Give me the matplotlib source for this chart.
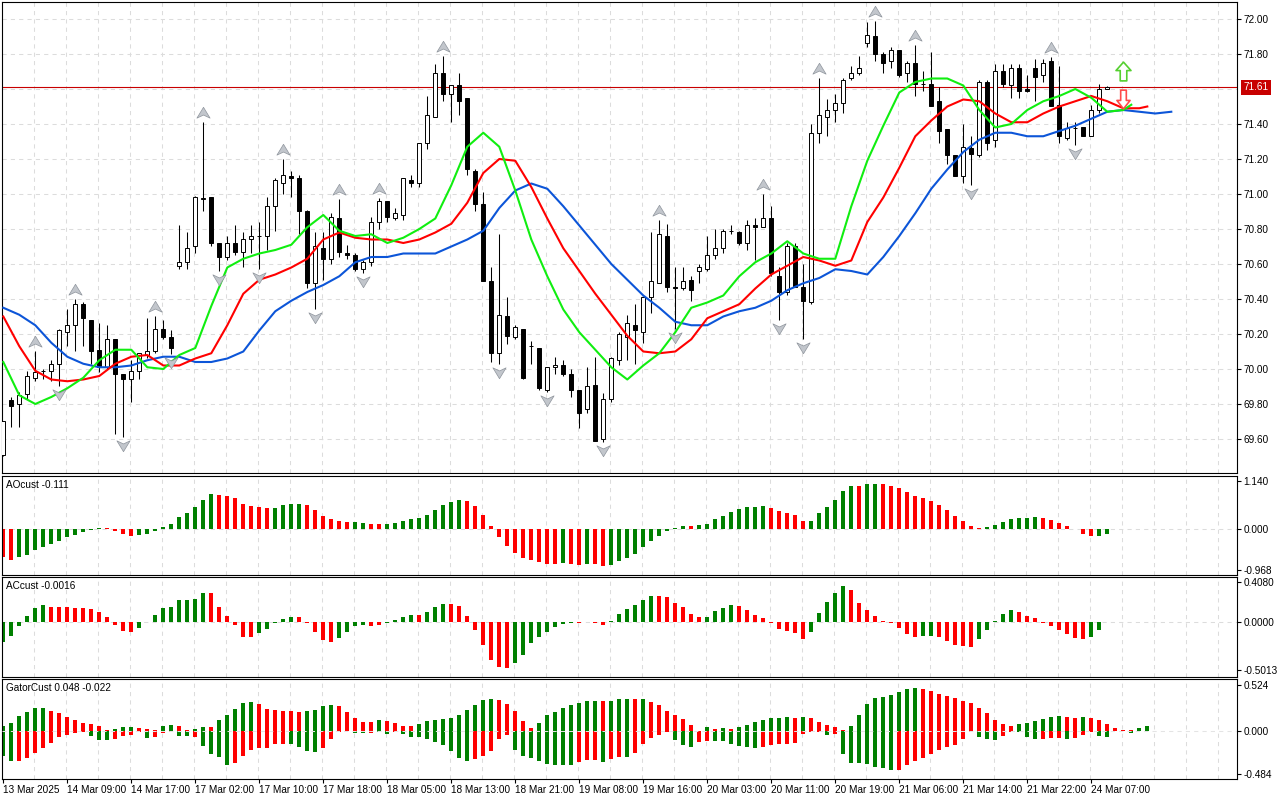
import matplotlib
matplotlib.use("Agg")
import matplotlib.pyplot as plt
import numpy as np
from matplotlib.path import Path
from matplotlib import transforms

# H1 candles (bar 0 = left edge)
opens = [69.51, 69.82, 69.80, 69.855, 69.95, 69.99, 69.99, 70.03, 70.21, 70.25,
         70.37, 70.28, 70.11, 70.01, 70.17, 69.97, 69.94, 69.99, 70.08, 70.10,
         70.23, 70.18, 70.59, 70.61, 70.70, 70.97, 70.98, 70.72, 70.64, 70.72,
         70.67, 70.74, 70.76, 70.76, 70.93, 71.065, 71.10, 71.09, 70.90, 70.49,
         70.69, 70.63, 70.86, 70.66, 70.65, 70.57, 70.61, 70.84, 70.96, 70.86,
         70.88, 71.08, 71.065, 71.29, 71.44, 71.69, 71.57, 71.62, 71.55, 71.13,
         70.94, 70.50, 70.09, 70.30, 70.18, 70.23, 70.13, 70.12, 69.88, 70.01,
         70.02, 69.97, 69.88, 69.77, 69.91, 69.60, 69.83, 70.05, 70.18, 70.25,
         70.21, 70.41, 70.49, 70.76, 70.47, 70.46, 70.51, 70.56, 70.57, 70.65,
         70.69, 70.79, 70.78, 70.72, 70.82, 70.81, 70.86, 70.53, 70.44, 70.70,
         70.47, 70.38, 71.35, 71.44, 71.48, 71.52, 71.66, 71.69, 71.86, 71.90,
         71.80, 71.76, 71.82, 71.69, 71.75, 71.63, 71.63, 71.53, 71.37, 71.22,
         71.10, 71.26, 71.22, 71.64, 71.31, 71.70, 71.62, 71.72, 71.60, 71.72,
         71.68, 71.76, 71.51, 71.32, 71.375, 71.38, 71.33, 71.48, 71.60]
highs = [69.70, 69.84, 69.87, 69.99, 70.10, 70.00, 70.05, 70.23, 70.34, 70.40,
         70.38, 70.28, 70.26, 70.25, 70.17, 69.97, 70.05, 70.09, 70.29, 70.30,
         70.28, 70.22, 70.82, 70.78, 70.99, 71.41, 70.98, 70.72, 70.76, 70.82,
         70.78, 70.82, 70.84, 70.98, 71.09, 71.20, 71.13, 71.11, 70.91, 70.78,
         70.78, 70.89, 70.97, 70.71, 70.66, 70.62, 70.87, 70.975, 70.96, 70.92,
         71.09, 71.11, 71.29, 71.56, 71.74, 71.79, 71.62, 71.69, 71.55, 71.14,
         71.01, 70.58, 70.77, 70.41, 70.25, 70.23, 70.16, 70.12, 70.01, 70.07,
         70.05, 70.00, 69.88, 70.01, 70.07, 69.86, 70.07, 70.21, 70.31, 70.37,
         70.41, 70.78, 70.85, 70.83, 70.58, 70.58, 70.53, 70.60, 70.76, 70.80,
         70.80, 70.82, 70.79, 70.85, 70.86, 71.00, 70.93, 70.58, 70.72, 70.72,
         70.60, 71.40, 71.66, 71.54, 71.57, 71.66, 71.73, 71.79, 71.98, 71.99,
         71.81, 71.84, 71.82, 71.76, 71.85, 71.70, 71.81, 71.61, 71.37, 71.22,
         71.40, 71.33, 71.65, 71.65, 71.74, 71.74, 71.74, 71.74, 71.68, 71.77,
         71.77, 71.785, 71.73, 71.41, 71.41, 71.385, 71.51, 71.63, 71.615]
lows = [69.50, 69.67, 69.67, 69.83, 69.93, 69.94, 69.93, 69.90, 70.13, 70.10,
        70.13, 70.03, 69.98, 70.00, 69.63, 69.61, 69.81, 69.94, 70.06, 70.09,
        70.17, 70.085, 70.57, 70.57, 70.66, 70.90, 70.70, 70.56, 70.62, 70.65,
        70.58, 70.66, 70.57, 70.68, 70.79, 71.00, 70.98, 70.77, 70.46, 70.34,
        70.51, 70.60, 70.64, 70.63, 70.56, 70.55, 70.59, 70.80, 70.84, 70.85,
        70.85, 71.04, 71.04, 71.255, 71.44, 71.53, 71.41, 71.45, 71.11, 70.90,
        70.50, 70.04, 70.03, 70.14, 70.17, 69.94, 70.03, 69.88, 69.87, 69.97,
        69.96, 69.84, 69.66, 69.75, 69.59, 69.58, 69.81, 70.02, 70.05, 70.03,
        70.15, 70.32, 70.49, 70.44, 70.23, 70.45, 70.39, 70.49, 70.56, 70.63,
        70.66, 70.77, 70.71, 70.68, 70.62, 70.81, 70.53, 70.28, 70.42, 70.47,
        70.17, 70.37, 71.29, 71.33, 71.41, 71.46, 71.65, 71.68, 71.84, 71.76,
        71.69, 71.72, 71.67, 71.64, 71.56, 71.59, 71.50, 71.29, 71.17, 71.10,
        71.06, 71.05, 71.21, 71.25, 71.27, 71.61, 71.55, 71.55, 71.58, 71.53,
        71.64, 71.50, 71.29, 71.31, 71.28, 71.33, 71.33, 71.46, 71.60]
closes = [69.70, 69.79, 69.85, 69.96, 69.98, 69.99, 70.03, 70.22, 70.25, 70.37,
          70.29, 70.10, 70.01, 70.17, 69.97, 69.94, 69.99, 70.09, 70.10, 70.23,
          70.18, 70.12, 70.61, 70.69, 70.98, 70.975, 70.72, 70.64, 70.72, 70.67,
          70.74, 70.76, 70.76, 70.93, 71.08, 71.11, 71.09, 70.90, 70.49, 70.70,
          70.63, 70.87, 70.67, 70.65, 70.57, 70.61, 70.84, 70.96, 70.87, 70.89,
          71.09, 71.065, 71.29, 71.45, 71.69, 71.57, 71.62, 71.53, 71.14, 70.94,
          70.50, 70.09, 70.31, 70.19, 70.24, 69.95, 70.13, 69.89, 70.01, 70.02,
          69.97, 69.88, 69.75, 69.90, 69.59, 69.83, 70.06, 70.20, 70.26, 70.22,
          70.41, 70.50, 70.77, 70.47, 70.46, 70.50, 70.45, 70.58, 70.65, 70.69,
          70.79, 70.79, 70.72, 70.82, 70.81, 70.86, 70.55, 70.44, 70.70, 70.47,
          70.39, 71.35, 71.45, 71.48, 71.52, 71.65, 71.69, 71.72, 71.91, 71.80,
          71.75, 71.82, 71.68, 71.75, 71.63, 71.63, 71.50, 71.36, 71.22, 71.10,
          71.27, 71.23, 71.64, 71.29, 71.70, 71.63, 71.72, 71.59, 71.59, 71.67,
          71.75, 71.50, 71.33, 71.375, 71.375, 71.33, 71.48, 71.60, 71.61]

up_fractals = [4, 9, 19, 25, 35, 42, 47, 55, 82, 95, 102, 109, 114, 131]
down_fractals = [7, 15, 21, 27, 32, 39, 45, 62, 68, 75, 84, 97, 100, 121, 134]

# alligator lines, sampled every second bar (they run past the last candle)
jaw_bars = np.arange(0, 147, 2)
jaw = [70.35, 70.31, 70.25, 70.15, 70.07, 70.03, 70.01, 70.01, 70.02, 70.05,
       70.07, 70.07, 70.04, 70.04, 70.06, 70.10, 70.22, 70.33, 70.39, 70.44,
       70.48, 70.53, 70.61, 70.64, 70.64, 70.66, 70.66, 70.66, 70.70, 70.74,
       70.79, 70.92, 71.02, 71.06, 71.03, 70.93, 70.82, 70.71, 70.60, 70.51,
       70.42, 70.35, 70.27, 70.25, 70.25, 70.30, 70.33, 70.35, 70.39, 70.45,
       70.49, 70.52, 70.57, 70.56, 70.54, 70.64, 70.76, 70.89, 71.03, 71.14,
       71.24, 71.31, 71.35, 71.35, 71.33, 71.33, 71.36, 71.39, 71.43, 71.47,
       71.48, 71.47, 71.46, 71.47]
teeth_bars = list(range(0, 143, 2)) + [143]
teeth = [70.30, 70.13, 69.99, 69.94, 69.93, 69.94, 69.96, 70.03, 70.07, 70.08,
         70.02, 70.02, 70.06, 70.09, 70.25, 70.43, 70.51, 70.54, 70.58, 70.63,
         70.74, 70.78, 70.75, 70.74, 70.74, 70.72, 70.74, 70.78, 70.83, 70.95,
         71.12, 71.20, 71.19, 71.04, 70.86, 70.69, 70.56, 70.43, 70.31, 70.19,
         70.10, 70.09, 70.10, 70.17, 70.29, 70.33, 70.37, 70.46, 70.54, 70.59,
         70.64, 70.62, 70.59, 70.62, 70.84, 70.98, 71.15, 71.33, 71.42, 71.50,
         71.54, 71.53, 71.46, 71.41, 71.41, 71.46, 71.50, 71.53, 71.56, 71.53,
         71.49, 71.49, 71.50]
lips_bars = list(range(0, 141, 2)) + [141]
lips = [70.04, 69.85, 69.80, 69.84, 69.89, 69.95, 70.05, 70.11, 70.11, 70.01,
        70.00, 70.08, 70.12, 70.36, 70.58, 70.63, 70.66, 70.68, 70.71, 70.81,
        70.88, 70.79, 70.76, 70.77, 70.72, 70.75, 70.80, 70.86, 71.05, 71.27,
        71.35, 71.27, 71.02, 70.74, 70.53, 70.34, 70.21, 70.11, 70.01, 69.94,
        70.02, 70.09, 70.21, 70.35, 70.38, 70.42, 70.53, 70.61, 70.66, 70.73,
        70.66, 70.63, 70.63, 70.93, 71.19, 71.39, 71.58, 71.64, 71.66, 71.66,
        71.62, 71.48, 71.38, 71.40, 71.48, 71.53, 71.56, 71.60, 71.55, 71.47,
        71.48, 71.51]

current_price = 71.61
signal_bar = 140
signal_up_price = 71.70
signal_down_price = 71.54

# oscillators, one value per bar; colour codes g = green, r = red
ao_vals = [-0.673, -0.736, -0.673, -0.610, -0.499, -0.420, -0.356, -0.277, -0.198, -0.135,
           -0.063, -0.024, 0.024, 0.016, -0.040, -0.119, -0.166, -0.135, -0.119, -0.040,
           0.055, 0.119, 0.293, 0.380, 0.515, 0.697, 0.831, 0.807, 0.784, 0.736,
           0.586, 0.538, 0.522, 0.499, 0.500, 0.570, 0.594, 0.595, 0.570, 0.459,
           0.309, 0.238, 0.200, 0.170, 0.172, 0.135, 0.119, 0.118, 0.120, 0.142,
           0.190, 0.238, 0.261, 0.333, 0.451, 0.570, 0.641, 0.689, 0.665, 0.546,
           0.333, 0.063, -0.182, -0.396, -0.562, -0.681, -0.728, -0.776, -0.823, -0.825,
           -0.800, -0.823, -0.847, -0.823, -0.839, -0.871, -0.847, -0.752, -0.681, -0.586,
           -0.420, -0.277, -0.158, -0.040, 0.024, 0.071, 0.065, 0.095, 0.119, 0.238,
           0.309, 0.404, 0.475, 0.522, 0.525, 0.546, 0.499, 0.428, 0.380, 0.333,
           0.190, 0.192, 0.380, 0.522, 0.689, 0.902, 1.021, 1.015, 1.069, 1.070,
           1.065, 1.021, 0.974, 0.879, 0.784, 0.736, 0.665, 0.570, 0.451, 0.309,
           0.190, 0.071, 0.024, 0.048, 0.095, 0.166, 0.238, 0.261, 0.262, 0.285,
           0.261, 0.214, 0.143, 0.071, -0.008, -0.119, -0.166, -0.160, -0.111]
ao_cols = ("rr" "ggggggggggg" "rrrr" "gggggggggg" "rrrrrrr" "gggg" "rrrrrr" "gg" "rr"
           "gggggggggg" "rrrrrrrrrrrr" "g" "rr" "g" "rr" "gggggggggg" "r" "ggggggggg"
           "rrrrr" "gggggg" "r" "gg" "rrrrrrrrrrrrr" "ggggggg" "rrrrrrr" "gg")

ac_vals = [-0.208, -0.146, -0.042, 0.059, 0.142, 0.174, 0.155, 0.153, 0.152, 0.145,
           0.143, 0.132, 0.101, 0.049, -0.035, -0.097, -0.104, -0.066, -0.003, 0.069,
           0.142, 0.153, 0.226, 0.227, 0.236, 0.298, 0.295, 0.153, 0.059, -0.031,
           -0.160, -0.161, -0.118, -0.076, -0.014, 0.028, 0.049, 0.048, -0.010, -0.104,
           -0.191, -0.208, -0.170, -0.104, -0.042, -0.031, -0.042, -0.031, -0.010, 0.017,
           0.049, 0.069, 0.068, 0.101, 0.153, 0.184, 0.180, 0.163, 0.059, -0.083,
           -0.239, -0.396, -0.468, -0.479, -0.427, -0.344, -0.219, -0.156, -0.104, -0.052,
           -0.021, -0.010, -0.012, -0.005, -0.017, -0.031, 0.010, 0.080, 0.132, 0.174,
           0.226, 0.267, 0.265, 0.257, 0.194, 0.153, 0.080, 0.049, 0.050, 0.111,
           0.142, 0.174, 0.163, 0.121, 0.069, 0.038, -0.010, -0.073, -0.094, -0.118,
           -0.180, -0.104, 0.090, 0.205, 0.298, 0.371, 0.330, 0.194, 0.121, 0.059,
           0.010, -0.017, -0.062, -0.125, -0.156, -0.146, -0.145, -0.156, -0.198, -0.239,
           -0.250, -0.260, -0.177, -0.083, 0.010, 0.080, 0.121, 0.101, 0.059, 0.038,
           -0.010, -0.042, -0.083, -0.125, -0.167, -0.177, -0.156, -0.083, -0.0016]
ac_cols = ("gggggg" "rrrrrrrrrrr" "ggggggggg" "rrrrrr" "ggggg" "rrrrr" "gggg" "rr" "gggg"
           "r" "ggg" "rrrrrrrr" "gggggggg" "r" "g" "rr" "gggggg" "rrrrrr" "gggg"
           "rrrrrrrrr" "ggggg" "rrrrrrrrr" "gg" "rrrrr" "ggggg" "rrrrrrrrr" "ggg")

gator_up = [0.057, 0.094, 0.172, 0.217, 0.262, 0.264, 0.229, 0.206, 0.160, 0.125,
            0.092, 0.083, 0.058, 0.011, 0.023, 0.045, 0.046, 0.034, 0.021, 0.015,
            0.057, 0.070, 0.057, 0.011, 0.023, 0.045, 0.044, 0.127, 0.183, 0.251,
            0.319, 0.331, 0.308, 0.251, 0.240, 0.230, 0.229, 0.219, 0.230, 0.242,
            0.287, 0.298, 0.287, 0.215, 0.151, 0.102, 0.101, 0.128, 0.117, 0.094,
            0.060, 0.059, 0.083, 0.117, 0.128, 0.140, 0.151, 0.185, 0.242, 0.298,
            0.355, 0.366, 0.355, 0.310, 0.230, 0.117, 0.038, 0.094, 0.185, 0.219,
            0.264, 0.298, 0.321, 0.344, 0.345, 0.343, 0.346, 0.366, 0.367, 0.365,
            0.366, 0.332, 0.298, 0.230, 0.185, 0.140, 0.072, 0.002, 0.045, 0.026,
            0.038, 0.026, 0.049, 0.072, 0.106, 0.128, 0.151, 0.152, 0.162, 0.151,
            0.162, 0.151, 0.106, 0.072, 0.049, 0.015, 0.060, 0.185, 0.310, 0.378,
            0.389, 0.412, 0.446, 0.480, 0.491, 0.480, 0.457, 0.423, 0.400, 0.378,
            0.344, 0.321, 0.264, 0.208, 0.128, 0.083, 0.060, 0.083, 0.100, 0.117,
            0.140, 0.160, 0.174, 0.160, 0.151, 0.160, 0.151, 0.128, 0.083, 0.038,
            0.015, 0.015, 0.038, 0.060]
gator_up_cols = ("gggggg" "rrrrrrrr" "ggg" "rrr" "gg" "rr" "gg" "r" "ggggg" "rrrrrr" "gggg"
                 "rrrrr" "g" "rrrr" "gggggggggg" "rrrrr" "gggggggg" "r" "ggg" "r" "g"
                 "rrrrrrr" "g" "r" "g" "r" "ggggggg" "r" "g" "rrrrr" "ggggggggg"
                 "rrrrrrrrrrrr" "gggggg" "rr" "g" "rrrrrr" "gg")
gator_dn = [-0.276, -0.332, -0.332, -0.302, -0.245, -0.189, -0.132, -0.064, -0.038, -0.023,
            -0.011, -0.049, -0.094, -0.094, -0.083, -0.049, -0.038, -0.011, -0.072, -0.064,
            -0.015, -0.011, -0.049, -0.057, -0.064, -0.164, -0.253, -0.287, -0.378, -0.355,
            -0.276, -0.208, -0.189, -0.189, -0.140, -0.140, -0.141, -0.174, -0.219, -0.230,
            -0.185, -0.083, -0.002, 0.0, -0.015, -0.023, -0.015, -0.008, -0.026, -0.013,
            -0.026, -0.060, -0.061, -0.083, -0.117, -0.151, -0.219, -0.298, -0.332, -0.310,
            -0.276, -0.219, -0.083, -0.038, -0.208, -0.276, -0.298, -0.332, -0.366, -0.378,
            -0.379, -0.380, -0.344, -0.321, -0.320, -0.344, -0.310, -0.287, -0.288, -0.242,
            -0.140, -0.072, -0.038, -0.002, -0.094, -0.151, -0.174, -0.117, -0.106, -0.107,
            -0.108, -0.140, -0.162, -0.174, -0.185, -0.174, -0.151, -0.140, -0.140, -0.135,
            -0.026, -0.002, -0.004, -0.038, -0.026, -0.253, -0.355, -0.356, -0.366, -0.400,
            -0.412, -0.434, -0.433, -0.378, -0.332, -0.298, -0.253, -0.208, -0.174, -0.151,
            -0.083, -0.002, -0.060, -0.083, -0.094, -0.053, -0.008, -0.002, -0.060, -0.085,
            -0.084, -0.072, -0.071, -0.085, -0.072, -0.038, -0.002, -0.049, -0.060, 0.0,
            0.0, -0.015]
gator_dn_cols = ("gg" "rrrrrrrrr" "ggg" "rrrr" "g" "rrr" "gg" "r" "gggg" "rrrrrrr" "gggg"
                 "rrrr" "gg" "r" "gg" "r" "ggggggggg" "rrrrr" "gggggggg" "rrr" "g" "rr" "g"
                 "rrrrr" "ggg" "rr" "gggggg" "rrrrrrrr" "g" "r" "ggggggg" "rrrrrrrrrr"
                 "ggg" "rr" "ggg" "rrr" "g" "rrr" "ggggg")
gator_label_up = 0.048
gator_label_dn = -0.022

time_label_bars = [0, 8, 16, 24, 32, 40, 48, 56, 64, 72, 80, 88, 96, 104, 112, 120, 128, 136]
time_labels = ["13 Mar 2025", "14 Mar 09:00", "14 Mar 17:00", "17 Mar 02:00", "17 Mar 10:00",
               "17 Mar 18:00", "18 Mar 05:00", "18 Mar 13:00", "18 Mar 21:00", "19 Mar 08:00",
               "19 Mar 16:00", "20 Mar 03:00", "20 Mar 11:00", "20 Mar 19:00", "21 Mar 06:00",
               "21 Mar 14:00", "21 Mar 22:00", "24 Mar 07:00"]

price_levels = [72.00, 71.80, 71.60, 71.40, 71.20, 71.00, 70.80, 70.60, 70.40, 70.20,
                70.00, 69.80, 69.60]

# ---- styling ----
plt.rcParams['font.family'] = ['Liberation Sans', 'DejaVu Sans']
plt.rcParams['font.size'] = 7.2
plt.rcParams['lines.scale_dashes'] = False

W, H = 1280, 800
FS = 7.2
GRID = dict(color='#dcdcdc', lw=0.75, ls=(0, (3, 3)))
HIST_COLORS = {'g': '#008000', 'r': '#ff0000'}
XMIN, XMAX = -0.125, 154.25

fig = plt.figure(figsize=(W / 100, H / 100), dpi=100)
fig.patch.set_facecolor('white')


def px_axes(left, top, right, bottom):
    return fig.add_axes([left / W, 1 - bottom / H, (right - left) / W, (bottom - top) / H])


def style_panel(ax, yticks, ylabels):
    ax.set_xlim(XMIN, XMAX)
    ax.set_facecolor('white')
    for s in ax.spines.values():
        s.set_linewidth(0.8)
        s.set_color('black')
    ax.yaxis.tick_right()
    ax.set_yticks(yticks)
    ax.set_yticklabels(ylabels)
    ax.tick_params(axis='y', direction='out', length=3, width=0.8, pad=1.5, labelsize=FS)
    ax.set_xticks([])
    # vertical dashed grid every 4 bars
    for g in range(4, 153, 4):
        ax.axvline(g - 0.15, zorder=0, **GRID)


def draw_hist(ax, vals, cols, zero_on_top=False):
    ax.bar(np.arange(len(vals)), vals, width=0.5, linewidth=0,
           color=[HIST_COLORS[c] for c in cols], zorder=2)
    ax.axhline(0, zorder=3 if zero_on_top else 1,
               **dict(GRID, color='#e4e4e4' if zero_on_top else '#dcdcdc'))


# ---- main price panel ----
ax = px_axes(2.3, 2.3, 1237.3, 473.3)
ax.set_ylim(69.404, 72.0954)
main_ticks = [p for p in price_levels if abs(p - 71.60) > 1e-6]
style_panel(ax, main_ticks, [f"{p:.2f}" for p in main_ticks])
for p in price_levels:
    ax.axhline(p, zorder=0, **GRID)

bars = np.arange(len(opens))
o = np.array(opens)
c = np.array(closes)
ax.vlines(bars, lows, highs, color='black', lw=0.75, zorder=2)
ax.bar(bars, np.abs(c - o), bottom=np.minimum(o, c), width=0.5,
       color=['white' if cc >= oo else 'black' for oo, cc in zip(o, c)],
       edgecolor='black', linewidth=0.7, zorder=3)

ax.plot(jaw_bars, jaw, color='#0c55d8', lw=1.5, zorder=4)
ax.plot(teeth_bars, teeth, color='#ff0000', lw=1.5, zorder=4)
ax.plot(lips_bars, lips, color='#10ee10', lw=1.5, zorder=4)

# fractal arrows, drawn a few pixels off the high / low
frac_up = Path([(0, 0.8), (0.85, -0.6), (0, -0.2), (-0.85, -0.6), (0, 0.8)],
               [Path.MOVETO, Path.LINETO, Path.LINETO, Path.LINETO, Path.CLOSEPOLY])
frac_dn = Path([(0, -0.8), (0.85, 0.6), (0, 0.2), (-0.85, 0.6), (0, -0.8)],
               [Path.MOVETO, Path.LINETO, Path.LINETO, Path.LINETO, Path.CLOSEPOLY])
up_trans = transforms.offset_copy(ax.transData, fig=fig, y=9, units='dots')
dn_trans = transforms.offset_copy(ax.transData, fig=fig, y=-8, units='dots')
ax.plot(up_fractals, [highs[i] for i in up_fractals], ls='none', marker=frac_up,
        ms=9.5, mfc='#c2c6cc', mec='#8e949c', mew=0.5, transform=up_trans, zorder=5)
ax.plot(down_fractals, [lows[i] for i in down_fractals], ls='none', marker=frac_dn,
        ms=9.5, mfc='#c2c6cc', mec='#8e949c', mew=0.5, transform=dn_trans, zorder=5)

# hollow signal arrows
block_up = Path([(0, 1), (0.8, 0.1), (0.35, 0.1), (0.35, -1), (-0.35, -1), (-0.35, 0.1),
                 (-0.8, 0.1), (0, 1)],
                [Path.MOVETO] + [Path.LINETO] * 6 + [Path.CLOSEPOLY])
block_dn = Path([(0, -1), (0.7, -0.1), (0.3, -0.1), (0.3, 1), (-0.3, 1), (-0.3, -0.1),
                 (-0.7, -0.1), (0, -1)],
                [Path.MOVETO] + [Path.LINETO] * 6 + [Path.CLOSEPOLY])
ax.plot([signal_bar], [signal_up_price], marker=block_up, ms=13.5, mfc='white',
        mec='#55d030', mew=1.2, zorder=6)
ax.plot([signal_bar], [signal_down_price], marker=block_dn, ms=13.5, mfc='white',
        mec='#ff4a4a', mew=1.2, zorder=6)

# current price line and label
ax.axhline(current_price, color='#c80000', lw=0.8, zorder=1)
ax.annotate(f"{current_price:.2f}", xy=(1, current_price),
            xycoords=('axes fraction', 'data'), xytext=(6, 0), textcoords='offset pixels',
            ha='left', va='center', color='white', fontsize=FS, annotation_clip=False,
            bbox=dict(boxstyle='square,pad=0.25', fc='#c80000', ec='none'))

# ---- AO ----
ax_ao = px_axes(2.3, 475.7, 1237.3, 574.7)
ax_ao.set_ylim(-1.085, 1.266)
style_panel(ax_ao, [1.140, 0.0, -0.968], ["1.140", "0.000", "-0.968"])
draw_hist(ax_ao, ao_vals, ao_cols)
ax_ao.annotate(f"AOcust {ao_vals[-1]:.3f}", xy=(0, 1), xycoords='axes fraction',
               xytext=(4, -4), textcoords='offset pixels', ha='left', va='top')

# ---- AC ----
ax_ac = px_axes(2.3, 577.3, 1237.3, 676.7)
ax_ac.set_ylim(-0.572, 0.462)
style_panel(ax_ac, [0.4080, 0.0, -0.5013], ["0.4080", "0.0000", "-0.5013"])
draw_hist(ax_ac, ac_vals, ac_cols)
ax_ac.annotate(f"ACcust {ac_vals[-1]:.4f}", xy=(0, 1), xycoords='axes fraction',
               xytext=(4, -4), textcoords='offset pixels', ha='left', va='top')

# ---- Gator ----
ax_g = px_axes(2.3, 679, 1237.3, 779)
ax_g.set_ylim(-0.540, 0.593)
style_panel(ax_g, [0.524, 0.0, -0.484], ["0.524", "0.000", "-0.484"])
ax_g.bar(np.arange(len(gator_up)), gator_up, width=0.5, linewidth=0,
         color=[HIST_COLORS[k] for k in gator_up_cols], zorder=2)
draw_hist(ax_g, gator_dn, gator_dn_cols, zero_on_top=True)
ax_g.annotate(f"GatorCust {gator_label_up:.3f} {gator_label_dn:.3f}", xy=(0, 1),
              xycoords='axes fraction', xytext=(4, -4), textcoords='offset pixels',
              ha='left', va='top')

# time axis along the bottom panel
ax_g.set_xticks(time_label_bars)
ax_g.set_xticklabels(time_labels, ha='left')
ax_g.tick_params(axis='x', direction='out', length=3, width=0.8, pad=1.5, labelsize=FS)

fig.savefig('out.png', dpi=100)
